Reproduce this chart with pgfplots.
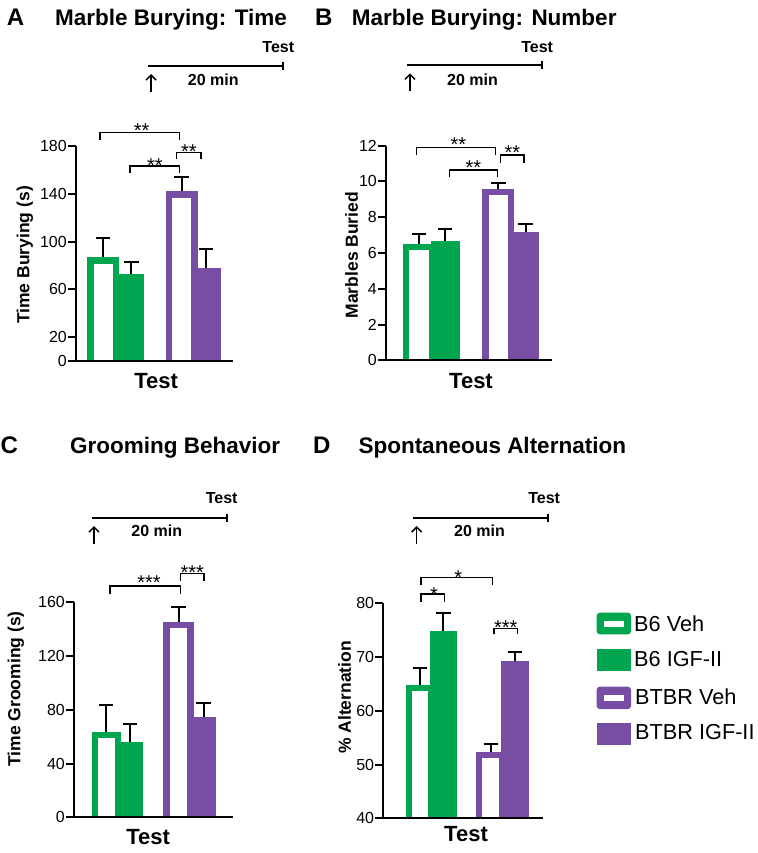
\documentclass[border=0pt]{standalone}
\usepackage{fontspec}
\setmainfont{Liberation Sans}
\usepackage{pgfplots}
\pgfplotsset{compat=1.18}
\usetikzlibrary{arrows.meta}

\definecolor{bgreen}{RGB}{0,165,80}
\definecolor{bpurple}{RGB}{120,78,164}

\newcommand{\fs}[1]{\fontsize{#1}{#1}\selectfont}

\pgfplotsset{
  panel/.style={
    scale only axis, anchor=south west, axis on top,
    axis x line*=bottom, axis y line*=left,
    axis line style={line width=2pt},
    xtick=\empty, xmin=0,
    tick align=outside, major tick length=8pt,
    ytick style={line width=2pt, black},
    yticklabel style={font=\fs{16}, inner sep=1pt},
    /pgf/number format/assume math mode=true,
    xlabel={Test},
    xlabel style={font=\bfseries\fs{22}, anchor=center},
    ylabel style={font=\bfseries\fs{17.5}, anchor=center},
  },
  cbar/.style={ybar, bar shift=0pt, bar width=#1, draw=none},
  vehin/.style={ybar, bar shift=0pt, bar width=#1, draw=none, fill=white},
  eb/.style={error bars/.cd, y dir=plus, y explicit,
    error bar style={line width=2pt, draw=black, solid},
    error mark options={rotate=90, line width=2pt, draw=black, solid, mark size=7.25pt}},
}

\begin{document}
\begin{tikzpicture}[x=1pt,y=1pt]
\useasboundingbox (0,0) rectangle (757,-853);

% ---------- A: marble burying, time
\begin{axis}[panel, at={(76pt,-361pt)}, width=157pt, height=215pt,
  xmax=157, ymin=0, ymax=180, ytick={0,20,60,100,140,180},
  ylabel={Time Burying (s)},
  ylabel style={at={(axis description cs:-0.325,0.493)}},
  xlabel style={at={(axis description cs:0.51,0)}, yshift=-20pt}]
\addplot[cbar=32pt, fill=bgreen, eb] coordinates {(27,87) +- (0,16)};
\addplot[vehin=19pt, yshift=-7pt] coordinates {(27,87)};
\addplot[cbar=32pt, fill=bpurple, eb] coordinates {(105.5,142) +- (0,12)};
\addplot[vehin=19pt, yshift=-7pt] coordinates {(105.5,142)};
\addplot[cbar=25pt, fill=bgreen, eb] coordinates {(55.3,73) +- (0,10)};
\addplot[cbar=29pt, fill=bpurple, eb] coordinates {(130,78) +- (0,16)};
\end{axis}

% ---------- B: marble burying, number
\begin{axis}[panel, at={(386pt,-360.3pt)}, width=165.7pt, height=214.6pt,
  xmax=165.7, ymin=0, ymax=12, ytick={0,2,...,12},
  ylabel={Marbles Buried},
  ylabel style={at={(axis description cs:-0.207,0.49)}},
  xlabel style={at={(axis description cs:0.513,0)}, yshift=-20.5pt}]
\addplot[cbar=33pt, fill=bgreen, eb] coordinates {(33.2,6.5) +- (0,0.54)};
\addplot[vehin=20pt, yshift=-6pt] coordinates {(33.2,6.5)};
\addplot[cbar=32pt, fill=bpurple, eb] coordinates {(112.3,9.6) +- (0,0.34)};
\addplot[vehin=19pt, yshift=-6pt] coordinates {(112.3,9.6)};
\addplot[cbar=29pt, fill=bgreen, eb] coordinates {(59,6.66) +- (0,0.67)};
\addplot[cbar=27pt, fill=bpurple, eb] coordinates {(139.5,7.15) +- (0,0.46)};
\end{axis}

% ---------- C: grooming
\begin{axis}[panel, at={(74pt,-817.3pt)}, width=159.3pt, height=215pt,
  xmax=159.3, ymin=0, ymax=160, ytick={0,40,...,160},
  ylabel={Time Grooming (s)},
  ylabel style={at={(axis description cs:-0.365,0.597)}},
  xlabel style={at={(axis description cs:0.466,0)}, yshift=-19.4pt}]
\addplot[cbar=29pt, fill=bgreen, eb] coordinates {(32.2,63.7) +- (0,20)};
\addplot[vehin=17pt, yshift=-6.6pt] coordinates {(32.2,63.7)};
\addplot[cbar=30.7pt, fill=bpurple, eb] coordinates {(104.7,145.5) +- (0,11)};
\addplot[vehin=17pt, yshift=-6.6pt] coordinates {(104.7,145.5)};
\addplot[cbar=26pt, fill=bgreen, eb] coordinates {(56,56.3) +- (0,13)};
\addplot[cbar=25pt, fill=bpurple, eb] coordinates {(129.5,75) +- (0,10)};
\end{axis}

% ---------- D: spontaneous alternation
\begin{axis}[panel, at={(383.3pt,-818.3pt)}, width=160pt, height=215pt,
  xmax=160, ymin=40, ymax=80, ytick={40,50,...,80},
  ylabel={\% Alternation},
  ylabel style={at={(axis description cs:-0.2425,0.562)}},
  xlabel style={at={(axis description cs:0.517,0)}, yshift=-16pt}]
\addplot[cbar=28.6pt, fill=bgreen, eb] coordinates {(36.7,64.8) +- (0,3.1)};
\addplot[vehin=16.6pt, yshift=-6pt] coordinates {(36.7,64.8)};
\addplot[cbar=29pt, fill=bpurple, eb] coordinates {(107.5,52.4) +- (0,1.4)};
\addplot[vehin=17pt, yshift=-6pt] coordinates {(107.5,52.4)};
\addplot[cbar=27pt, fill=bgreen, eb] coordinates {(60,74.85) +- (0,3.4)};
\addplot[cbar=27.7pt, fill=bpurple, eb] coordinates {(131.5,69.3) +- (0,1.7)};
\end{axis}

% ---------- panel letters and titles
\begin{scope}[every node/.style={inner sep=0pt, anchor=base west, font=\bfseries\fs{24}}]
\node at (6.7,-25.5) {A};
\node at (315,-25.5) {B};
\node at (0.5,-453) {C};
\node at (313,-453) {D};
\end{scope}
\begin{scope}[every node/.style={inner sep=0pt, anchor=base west, font=\bfseries\fs{22.5}}]
\node at (55,-25.5) {Marble Burying: Time};
\node at (351.7,-25.5) {Marble Burying: Number};
\node at (70,-453) {Grooming Behavior};
\node at (358.3,-453) {Spontaneous Alternation};
\end{scope}

% ---------- timelines
\begin{scope}[line width=2pt, every node/.style={inner sep=0pt, font=\bfseries\fs{16}}]
\foreach \xa/\xb/\yl/\xt/\yt/\xm/\ym/\xr in {
  147.7/282.7/65.7/278.3/47.5/213.3/79.5/151,
  406.7/541.7/65/537.2/47.2/472.5/80/410,
  91.7/226.7/517.7/221.7/498.3/156.8/530.8/94,
  413.3/548.3/517.7/544.2/498.3/479.5/530.8/416.7}{
  \draw (\xa,-\yl) -- (\xb,-\yl);
  \draw (\xb,-\yl+4) -- (\xb,-\yl-4);
  \node at (\xt,-\yt) {Test};
  \node at (\xm,-\ym) {20 min};
  \draw[line width=1.5pt, -{Straight Barb[length=5pt,width=10pt]}] (\xr,-\yl-26) -- (\xr,-\yl-8.3);
}
\end{scope}

% ---------- significance brackets
\begin{scope}[line width=1.5pt, every node/.style={inner sep=0pt, anchor=base, font=\fs{20}}]
\foreach \xa/\xb/\yt/\yb in {
  100/179.3/132.7/140, 130/179.3/166/173, 176.7/201/152.7/159.5,
  416.7/495.7/147.3/155, 449.3/497.7/170/176.7, 500.7/524/155/162.7,
  110/180.7/586/594, 180.7/204/573.3/580.7,
  421/492.7/577.3/585, 421/444.3/594/601.7, 494/517.7/628.3/634.3}{
  \draw (\xa,-\yb) -- (\xa,-\yt) -- (\xb,-\yt) -- (\xb,-\yb);
}
\node at (141.7,-137.5) {**};
\node at (155,-172) {**};
\node at (189,-158.5) {**};
\node at (458.3,-151.5) {**};
\node at (473.3,-174.8) {**};
\node at (512.3,-159.2) {**};
\node at (149,-589.8) {***};
\node at (192.3,-579.8) {***};
\node at (458.3,-584.2) {*};
\node at (434,-601.5) {*};
\node at (505.7,-634.2) {***};
\end{scope}

% ---------- legend
\fill[bgreen, rounded corners=3pt] (596.7,-612.7) rectangle (631,-634.3);
\fill[white] (604,-621) rectangle (624,-627.3);
\fill[bgreen] (596.7,-649.3) rectangle (631,-671);
\fill[bpurple, rounded corners=3pt] (596.7,-686.7) rectangle (631,-709);
\fill[white] (604,-695) rectangle (624,-701.3);
\fill[bpurple] (596.7,-722.7) rectangle (631,-745);
\begin{scope}[every node/.style={inner sep=0pt, anchor=west, font=\fs{21.7}}]
\node at (634,-623.5) {B6 Veh};
\node at (634,-659.5) {B6 IGF-II};
\node at (635,-697) {BTBR Veh};
\node at (635,-732) {BTBR IGF-II};
\end{scope}
\end{tikzpicture}
\end{document}
